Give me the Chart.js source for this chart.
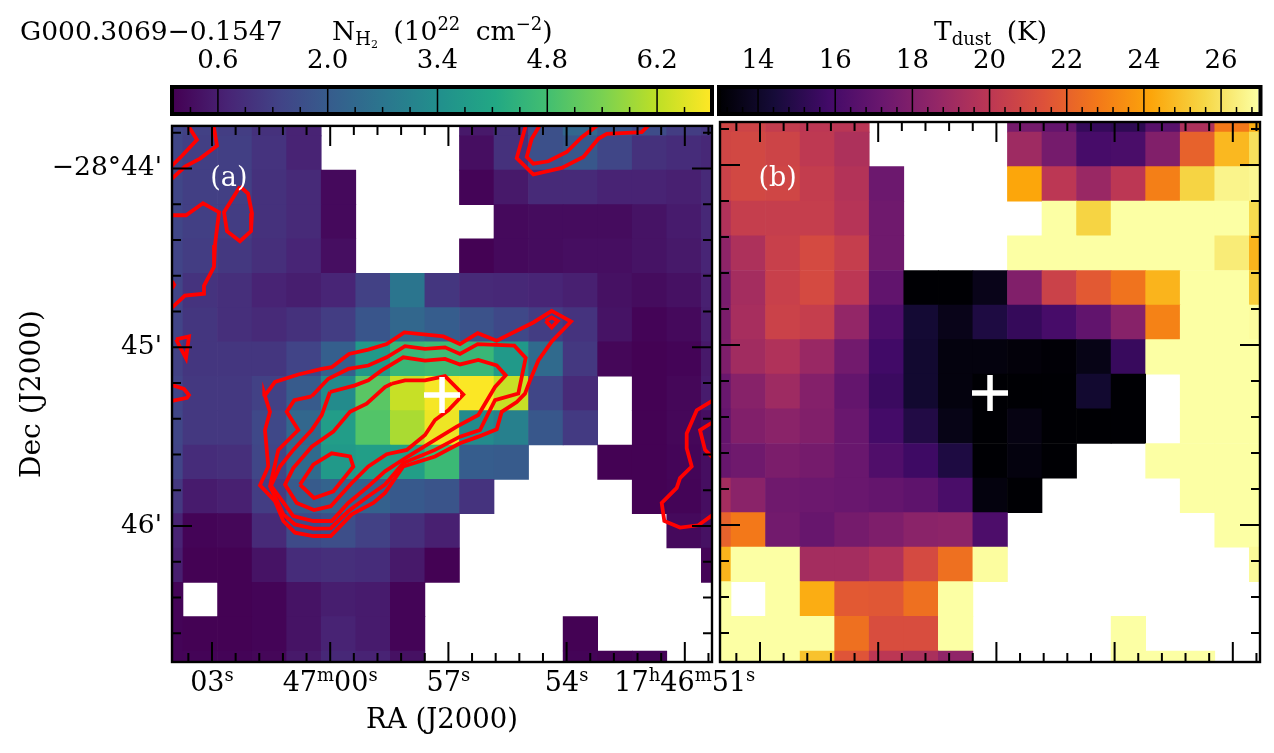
<!DOCTYPE html>
<html>
<head>
<meta charset="utf-8">
<script src="https://cdn.jsdelivr.net/npm/chart.js@4"></script>
<style>
  html, body { margin: 0; background: #fff; overflow: hidden; width: 1274px; height: 753px; }
  canvas { position: absolute; }
  .txt { position: absolute; font-family: "DejaVu Serif", serif; font-size: 27px; color: #000;
         white-space: nowrap; line-height: 30px; }
  .txt sup { font-size: 18px; line-height: 0; vertical-align: 10px; }
  .txt sub { font-size: 18px; line-height: 0; vertical-align: -5px; }
  .txt sub sub { font-size: 11px; vertical-align: -3px; }
  .panel-id { color: #fff; font-size: 27px; }
  .head { font-size: 26.5px; word-spacing: 7px; }
</style>
</head>
<body>
<canvas id="mapA" width="716" height="653" style="left:0;top:100px"></canvas>
<canvas id="mapB" width="558" height="653" style="left:716px;top:100px"></canvas>
<canvas id="barA" width="580" height="90" style="left:150px;top:30px"></canvas>
<canvas id="barB" width="574" height="90" style="left:700px;top:30px"></canvas>

<script>
/* ===== Data ===== */
const n = null;

// cell centres: RA seconds relative to 17h47m00s, Dec arcmin below -28 deg
const raCells = [4.175, 3.297, 2.42, 1.543, 0.666, -0.211, -1.088, -1.965, -2.842,
                 -3.719, -4.596, -5.473, -6.35, -7.227, -8.104, -8.981, -9.858];
const decCells = [43.721, 43.913, 44.105, 44.297, 44.489, 44.682, 44.874, 45.066, 45.258,
                  45.45, 45.643, 45.835, 46.027, 46.219, 46.411, 46.603, 46.796];

// N(H2) in 1e22 cm-2
const nh2Rows = [
  [1.45,1.35,1.25,1.0,.7,n,n,n,n,.5,1.0,1.7,2.3,1.9,1.6,1.25,1.1],
  [1.45,1.3,1.3,1.05,.7,n,n,n,n,.3,1.0,1.7,1.9,1.45,1.0,.9,.8],
  [1.45,1.3,1.3,1.0,.85,.2,n,n,n,.1,.5,.85,.85,.7,.7,.65,.85],
  [1.45,1.3,1.25,1.0,.85,.2,n,n,n,n,.2,.25,.25,.25,.4,.55,.8],
  [1.4,1.25,1.15,.95,.75,.3,n,n,n,.05,.2,.25,.3,.3,.4,.5,.75],
  [1.4,1.05,.95,.7,.6,.75,1.35,2.7,1.1,.85,.8,.75,.65,.35,.25,.35,.65],
  [1.4,1.1,.95,.85,1.0,1.25,1.85,2.3,2.05,1.75,1.5,1.25,1.05,.4,.1,.2,.6],
  [1.35,1.1,1.1,1.1,1.4,2.1,3.7,4.6,4.7,4.6,3.7,2.4,1.15,.15,.05,.1,.5],
  [1.4,1.15,1.15,1.35,2.0,3.3,5.1,6.3,6.8,6.85,6.3,1.45,.85,n,.05,.15,.55],
  [1.45,1.15,1.15,1.5,2.3,3.8,5.0,6.0,6.7,3.3,3.0,1.9,1.2,n,.05,.15,.3],
  [1.4,.9,.95,1.45,2.4,3.7,3.85,3.85,4.65,2.05,2.0,n,n,.05,.05,.12,.3],
  [1.15,.55,.65,1.25,2.0,2.2,2.15,1.95,1.8,1.05,n,n,n,n,.05,.1,.3],
  [.7,.1,.15,.85,1.55,1.65,1.35,.95,.65,n,n,n,n,n,n,.2,.35],
  [.6,.05,.05,.4,.9,.95,.9,.5,.05,n,n,n,n,n,n,n,.1],
  [.1,n,.05,.1,.4,.6,.55,.1,n,n,n,n,n,n,n,n,n],
  [.1,.05,.05,.1,.4,.7,.55,.1,n,n,n,n,.05,n,n,n,n],
  [.1,.1,.1,.15,.5,.8,.7,.35,n,n,n,n,.1,.05,.1,n,n],
];

// T dust in K
const tdustRows = [
  [20.8,20.7,20.3,20,19.9,n,n,n,n,17.6,17,15.4,15.2,16.6,19.5,22.8,24.4],
  [20.8,20.9,20.7,20.1,19.5,n,n,n,n,19,17.6,16,16.1,18,22,24.7,25.9],
  [20.6,20.9,20.8,20.3,19.7,17.3,n,n,n,24.2,20,18.8,20,23,25.5,26.6,26.7],
  [19.6,20.4,20.4,20.4,19.8,17.4,n,n,n,n,27,25.5,27,27,27,27,25.7],
  [18.4,19.5,20.5,21,20.4,17.4,n,n,n,27,27,27,27,27,27,26.3,24.6],
  [17.7,19.2,20.5,21,20,16.9,13.05,13.05,13.6,18,20.6,21.7,22.6,24.6,27,27,25.3],
  [17.8,19.3,20.6,20.4,18.6,16.2,14.3,13.6,14.7,15.4,16,16.9,18.2,23.1,27,27,26.9],
  [17.9,19.1,19.6,18.8,17.5,15.8,14.2,13.3,13.3,13.2,13.1,13.5,15.5,27,27,27,27],
  [17.2,18.2,19,18.1,17,15.6,14.2,13.3,13.05,13.05,13.05,14.2,13.05,n,27,27,27],
  [17,18,18.3,18,17.2,15.9,14.8,13.5,13.05,13.4,13.05,13.05,13.05,n,27,27,27],
  [17.1,17.4,17.8,17.6,17.2,16.3,15.7,14.7,13.05,13.3,13.05,n,n,27,27,27,27],
  [19.2,18.3,17.4,17.3,17.2,17,16.8,16.1,13.3,13.05,n,n,n,n,27,27,27],
  [22,22.8,17.5,17.1,17.6,17.9,18.3,18.4,16.2,n,n,n,n,n,n,27,27],
  [24.6,27,27,19.2,19.2,19.6,21,22.5,26.9,n,n,n,n,n,n,n,26.8],
  [27,n,27,24.4,21.7,21.6,22.5,27,n,n,n,n,n,n,n,n,n],
  [27,27,27,27,22.5,21.2,21.2,27,n,n,n,n,27,n,n,n,n],
  [27,27,27,25,21.5,20,19.4,18.5,n,n,n,n,27,27,27,n,n],
];

// N(H2) contours as [RA s, Dec arcmin]
const contourMain1 = [[1.673,45.274],[1.401,45.194],[.81,45.152],[.216,45.121],[-.038,45.111],[-.477,45.037],[-.967,45.013],[-1.434,44.982],[-1.881,44.917],[-2.871,44.939],[-3.294,44.982],[-3.744,44.921],[-4.226,44.963],[-5.155,44.861],[-5.622,44.796],[-6.112,44.856],[-5.622,44.967],[-5.282,45.074],[-5.071,45.185],[-4.944,45.259],[-4.734,45.306],[-4.353,45.361],[-4.226,45.459],[-3.759,45.5],[-3.294,45.537],[-2.66,45.611],[-1.855,45.667],[-1.391,45.815],[-1.094,45.871],[-.546,45.935],[-.013,46.056],[.429,46.056],[.893,46.037],[1.19,45.972],[1.401,45.861],[1.782,45.772],[1.571,45.667],[1.655,45.463],[1.528,45.361],[1.673,45.259],[1.673,45.274]];
const contourMain2 = [[.47,45.274],[.048,45.176],[-.459,45.121],[-.967,45.102],[-1.434,45.056],[-1.898,44.994],[-2.406,45.009],[-2.914,45],[-3.294,45.037],[-3.744,44.982],[-4.673,44.991],[-4.962,45.059],[-4.774,45.259],[-4.183,45.296],[-3.802,45.463],[-3.294,45.5],[-2.66,45.574],[-1.855,45.648],[-1.391,45.768],[-.967,45.833],[-.459,45.917],[-.013,46.013],[.429,46.015],[.893,45.991],[1.19,45.935],[1.528,45.778],[1.317,45.574],[.81,45.463],[1.104,45.361],[.911,45.296],[.47,45.274]];
const contourMain3 = [[.005,45.25],[-.629,45.213],[-.967,45.185],[-1.307,45.129],[-1.855,45.056],[-2.406,45.074],[-2.914,45.065],[-3.294,45.096],[-3.759,45.071],[-4.226,45.102],[-4.454,45.157],[-4.183,45.222],[-3.759,45.379],[-3.211,45.444],[-2.66,45.518],[-1.898,45.621],[-1.391,45.694],[-.967,45.778],[-.459,45.871],[-.038,45.972],[.429,45.972],[.937,45.944],[1.274,45.843],[1.503,45.774],[1.274,45.667],[.937,45.574],[.47,45.463],[.216,45.379],[.005,45.25]];
const contourMain4 = [[-1.561,45.204],[-1.898,45.185],[-2.406,45.185],[-2.914,45.161],[-3.378,45.264],[-2.997,45.352],[-2.66,45.407],[-2.406,45.491],[-1.942,45.574],[-1.434,45.598],[-.967,45.667],[-.546,45.759],[-.013,45.889],[.411,45.911],[.85,45.871],[1.147,45.768],[.937,45.676],[.47,45.556],[-.079,45.472],[-.503,45.361],[-.926,45.315],[-1.391,45.222],[-1.561,45.204]];
const contourMain5 = [[.766,45.768],[.429,45.657],[-.038,45.593],[-.503,45.611],[-.586,45.667],[-.079,45.806],[.411,45.843],[.766,45.768]];
const contourSpot = [[-5.47,44.852],[-5.622,44.833],[-5.774,44.852],[-5.622,44.889],[-5.47,44.852]];
const contourCornerA = [[3.66,43.74],[3.381,43.839],[3.761,43.928],[4.015,43.983]];
const contourCornerB = [[2.975,43.74],[2.873,43.872],[3.305,43.944],[3.685,43.989],[4.015,44.056]];
const contourLoop = [[2.289,44.1],[2.086,44.139],[1.985,44.25],[2.01,44.35],[2.289,44.406],[2.619,44.35],[2.695,44.244],[2.289,44.1]];
const contourWest = [[4.015,44.261],[3.66,44.261],[3.228,44.194],[2.822,44.244],[2.924,44.428],[2.949,44.55],[3.203,44.656],[3.203,44.7],[3.688,44.711],[4.015,44.778]];
const contourDot = [[4.015,44.63],[3.96,44.65],[4.015,44.67]];
const contourTri = [[3.914,44.956],[3.584,44.939],[3.66,45.061],[3.914,44.956]];
const contourEdge = [[4.015,45.211],[3.711,45.233],[3.584,45.267],[3.635,45.283],[4.015,45.3]];
const contourTop1 = [[-4.987,43.74],[-4.734,43.941],[-5.155,44.033],[-5.876,43.996],[-6.424,43.935],[-6.805,43.833],[-7.018,43.806],[-7.906,43.796],[-8.16,43.74]];
const contourTop2 = [[-5.368,43.74],[-5.114,43.833],[-4.987,43.935],[-5.155,43.972],[-5.536,43.959],[-6.003,43.907],[-6.383,43.824],[-6.891,43.74]];
const contourEast1 = [[-9.723,45.296],[-9.302,45.352],[-9.048,45.482],[-9.048,45.565],[-9.175,45.667],[-8.878,45.732],[-8.794,45.787],[-8.414,45.871],[-8.48,45.972],[-8.878,46.009],[-9.343,45.996],[-9.723,45.935]];
const contourEast2 = [[-9.723,45.417],[-9.386,45.463],[-9.513,45.574],[-9.723,45.621]];
const contours = [contourMain1, contourMain2, contourMain3, contourMain4, contourMain5, contourSpot,
                  contourCornerA, contourCornerB, contourLoop, contourWest, contourDot, contourTri, contourEdge,
                  contourTop1, contourTop2, contourEast1, contourEast2];

const sourcePos = { x: -2.838, y: 45.267 };

// axes
const raMajor = [3, 0, -3, -6, -9];
const raMinor = [3.6, 2.4, 1.8, 1.2, .6, -.6, -1.2, -1.8, -2.4, -3.6, -4.2, -4.8, -5.4, -6.6, -7.2, -7.8, -8.4, -9.6];
const raLabels = ["03<sup>s</sup>", "47<sup>m</sup>00<sup>s</sup>", "57<sup>s</sup>", "54<sup>s</sup>",
                  "17<sup>h</sup>46<sup>m</sup>51<sup>s</sup>"];
const decMajor = [44, 45, 46];
const decMinor = [43.8, 44.2, 44.4, 44.6, 44.8, 45.2, 45.4, 45.6, 45.8, 46.2, 46.4, 46.6];
const decLabels = ["\u221228\u00b044'", "45'", "46'"];

const nh2Major = [0.6, 2.0, 3.4, 4.8, 6.2];
const nh2Labels = ["0.6", "2.0", "3.4", "4.8", "6.2"];
const nh2Minor = [.25, .95, 1.3, 1.65, 2.35, 2.7, 3.05, 3.75, 4.1, 4.45, 5.15, 5.5, 5.85, 6.55];
const tdustMajor = [14, 16, 18, 20, 22, 24, 26];
const tdustLabels = ["14", "16", "18", "20", "22", "24", "26"];
const tdustMinor = [13.2, 13.6, 14.4, 14.8, 15.2, 15.6, 16.4, 16.8, 17.2, 17.6, 18.4, 18.8, 19.2, 19.6,
                    20.4, 20.8, 21.2, 21.6, 22.4, 22.8, 23.2, 23.6, 24.4, 24.8, 25.2, 25.6, 26.4, 26.8];

/* ===== Colour maps ===== */
const viridis = ["#440154", "#482475", "#414487", "#355f8d", "#2a788e", "#21918c", "#22a884", "#44bf70", "#7ad151", "#bddf26", "#fde725"];
const inferno = ["#000004", "#160b39", "#420a68", "#6a176e", "#932667", "#bc3754", "#dd513a", "#f37819", "#fca50a", "#f6d746", "#fcffa4"];
const nh2Range = [0.04, 6.875];
const tdustRange = [13.04, 26.97];

function rampColor(stops, range, v) {
  const t = Math.min(1, Math.max(0, (v - range[0]) / (range[1] - range[0]))) * (stops.length - 1);
  const i = Math.min(stops.length - 2, Math.floor(t));
  const f = t - i;
  const rgb = k => parseInt(stops[i].substr(k, 2), 16) * (1 - f) + parseInt(stops[i + 1].substr(k, 2), 16) * f;
  return `rgb(${rgb(1)},${rgb(3)},${rgb(5)})`;
}

/* ===== Chart helpers ===== */
Chart.defaults.font.family = '"DejaVu Serif", serif';
Chart.defaults.color = "#000";

const DEC_HALF = 0.0961;

function buildCells(rows) {
  const cells = [];
  rows.forEach((row, r) => row.forEach((v, c) => {
    if (v !== null) cells.push({ x: raCells[c], y: [decCells[r] - DEC_HALF, decCells[r] + DEC_HALF], v });
  }));
  return cells;
}

// ticks point inwards on all four sides, matplotlib style
const frameTicks = {
  id: "frameTicks",
  afterDatasetsDraw(chart) {
    const { ctx, chartArea: a, scales } = chart;
    const xTick = (v, len) => {
      const px = scales.x.getPixelForValue(v);
      ctx.moveTo(px, a.top); ctx.lineTo(px, a.top + len);
      ctx.moveTo(px, a.bottom); ctx.lineTo(px, a.bottom - len);
    };
    const yTick = (v, len) => {
      const py = scales.y.getPixelForValue(v);
      ctx.moveTo(a.left, py); ctx.lineTo(a.left + len, py);
      ctx.moveTo(a.right, py); ctx.lineTo(a.right - len, py);
    };
    ctx.save();
    ctx.strokeStyle = "#000";
    ctx.lineWidth = 2;
    ctx.beginPath();
    raMajor.forEach(v => xTick(v, 20));
    raMinor.forEach(v => xTick(v, 9));
    decMajor.forEach(v => yTick(v, 20));
    decMinor.forEach(v => yTick(v, 9));
    ctx.stroke();
    ctx.lineWidth = 2.4;
    ctx.strokeRect(a.left, a.top, a.right - a.left, a.bottom - a.top);
    ctx.restore();
  },
};

function makeMap(id, rows, stops, range, lines, showY, leftW, rightPad) {
  const datasets = [
    { type: "scatter", data: [sourcePos], order: 1, pointStyle: "cross", pointRadius: 18,
      pointBorderWidth: 5.5, pointBorderColor: "#fff", pointBackgroundColor: "#fff" },
  ];
  lines.forEach(pts => datasets.push({
    type: "line", data: pts.map(p => ({ x: p[0], y: p[1] })), order: 2, borderColor: "#ff0000",
    borderWidth: 3.8, pointRadius: 0, tension: 0, fill: false, borderJoinStyle: "miter",
  }));
  datasets.push({
    type: "bar", data: buildCells(rows), order: 3, borderWidth: 0,
    barPercentage: 1, categoryPercentage: 1,
    backgroundColor: c => rampColor(stops, range, c.raw.v),
  });
  return new Chart(document.getElementById(id), {
    type: "bar",
    data: { datasets },
    plugins: [frameTicks],
    options: {
      responsive: false, animation: false, events: [],
      layout: { autoPadding: false, padding: { top: 22, right: rightPad, left: 0, bottom: 0 } },
      plugins: { legend: { display: false }, tooltip: { enabled: false } },
      scales: {
        x: {
          type: "linear", reverse: true, min: -9.69, max: 4.015, offset: false,
          grid: { display: false, offset: false, drawTicks: false }, border: { display: false },
          ticks: { display: false },
          afterBuildTicks: s => { s.ticks = raMajor.map(value => ({ value })); },
          afterFit: s => { s.height = 91; },
          title: { display: showY, text: "RA (J2000)", font: { size: 27.5 }, padding: { top: 0, bottom: 15.5 } },
        },
        y: {
          type: "linear", reverse: true, min: 43.761, max: 46.761,
          grid: { display: false, drawTicks: false }, border: { display: false },
          ticks: {
            display: showY, autoSkip: false, padding: 10, font: { size: 26.5 }, maxRotation: 0,
            callback: v => decLabels[decMajor.indexOf(v)],
          },
          afterBuildTicks: s => { s.ticks = decMajor.map(value => ({ value })); },
          afterFit: s => { s.width = leftW; },
          title: { display: showY, text: "Dec (J2000)", font: { size: 28 }, padding: { top: 16, bottom: 0 } },
        },
      },
    },
  });
}

const barFrame = {
  id: "barFrame",
  afterDatasetsDraw(chart) {
    const { ctx, chartArea: a, scales } = chart;
    const { major, minor } = chart.options.plugins.barFrame;
    ctx.save();
    ctx.strokeStyle = "#000";
    ctx.lineWidth = 1.5;
    ctx.beginPath();
    major.forEach(v => {
      const px = scales.x.getPixelForValue(v);
      ctx.moveTo(px, a.bottom); ctx.lineTo(px, a.top);
    });
    minor.forEach(v => {
      const px = scales.x.getPixelForValue(v);
      ctx.moveTo(px, a.bottom); ctx.lineTo(px, a.bottom - 5);
    });
    ctx.stroke();
    ctx.lineWidth = 4;
    ctx.strokeRect(a.left - 2, a.top - 2, a.right - a.left + 4, a.bottom - a.top + 4);
    ctx.restore();
  },
};

function makeBar(id, stops, range, major, labels, minor, padLeft, padRight) {
  return new Chart(document.getElementById(id), {
    type: "bar",
    data: {
      labels: [""],
      datasets: [{
        data: [range], barPercentage: 1, categoryPercentage: 1, borderWidth: 0,
        backgroundColor: c => {
          const a = c.chart.chartArea;
          if (!a) return stops[0];
          const g = c.chart.ctx.createLinearGradient(a.left, 0, a.right, 0);
          stops.forEach((s, i) => g.addColorStop(i / (stops.length - 1), s));
          return g;
        },
      }],
    },
    plugins: [barFrame],
    options: {
      indexAxis: "y", responsive: false, animation: false, events: [],
      layout: { autoPadding: false, padding: { top: 0, right: padRight, left: padLeft, bottom: 8 } },
      plugins: { legend: { display: false }, tooltip: { enabled: false }, barFrame: { major, minor } },
      scales: {
        x: {
          type: "linear", position: "top", min: range[0], max: range[1],
          grid: { display: false, drawTicks: false }, border: { display: false },
          ticks: {
            autoSkip: false, padding: 12, font: { size: 26 }, maxRotation: 0,
            callback: v => labels[major.indexOf(v)],
          },
          afterBuildTicks: s => { s.ticks = major.map(value => ({ value })); },
          afterFit: s => { s.height = 59; },
        },
        y: { display: false },
      },
    },
  });
}

/* ===== Text overlays ===== */
function addText(html, left, top, cls, center) {
  const el = document.createElement("div");
  el.className = "txt " + (cls || "");
  el.innerHTML = html;
  el.style.left = left + "px";
  el.style.top = top + "px";
  if (center) el.style.transform = "translate(-50%, -50%)";
  document.body.appendChild(el);
  return el;
}

/* ===== Build ===== */
const chartA = makeMap("mapA", nh2Rows, viridis, nh2Range, contours, true, 172, 4);
const chartB = makeMap("mapB", tdustRows, inferno, tdustRange, [], false, 4, 14);
makeBar("barA", viridis, nh2Range, nh2Major, nh2Labels, nh2Minor, 24, 20);
makeBar("barB", inferno, tdustRange, tdustMajor, tdustLabels, tdustMinor, 21, 15.5);

raMajor.forEach((v, i) => addText(raLabels[i], chartA.scales.x.getPixelForValue(v), 682, "", true));
addText("(a)", chartA.scales.x.getPixelForValue(2.57), 177, "panel-id", true);
addText("(b)", 716 + chartB.scales.x.getPixelForValue(2.55), 177, "panel-id", true);

addText("G000.3069\u22120.1547", 20, 16, "head");
addText("N<sub>H<sub>2</sub></sub> (10<sup>22</sup> cm<sup>\u22122</sup>)", 332, 16, "head");
addText("T<sub>dust</sub> (K)", 934, 16, "head");
</script>
</body>
</html>
